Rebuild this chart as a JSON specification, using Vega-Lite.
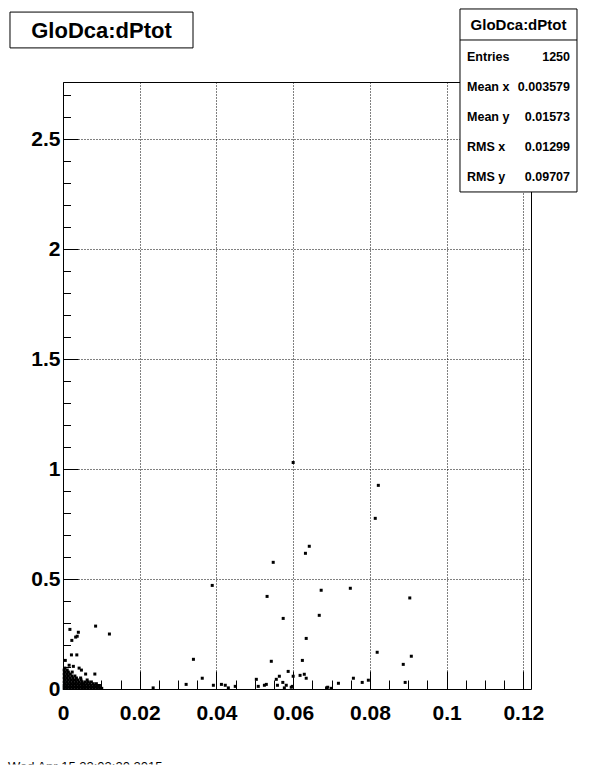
{
  "$schema": "https://vega.github.io/schema/vega-lite/v6.json",
  "width": 468,
  "height": 607,
  "autosize": {"type": "none"},
  "padding": {"left": 63, "top": 82, "right": 65, "bottom": 85},
  "background": "white",
  "config": {"view": {"stroke": "black", "strokeWidth": 1}, "font": "Liberation Sans"},
  "layer": [
    {
      "data": {"values": [
        {"x": 0.0600, "y": 1.030}, {"x": 0.0822, "y": 0.926}, {"x": 0.0814, "y": 0.776}, {"x": 0.0642, "y": 0.649},
        {"x": 0.0632, "y": 0.617}, {"x": 0.0548, "y": 0.576}, {"x": 0.0389, "y": 0.471}, {"x": 0.0673, "y": 0.449},
        {"x": 0.0749, "y": 0.458}, {"x": 0.0904, "y": 0.414}, {"x": 0.0532, "y": 0.421}, {"x": 0.0574, "y": 0.321},
        {"x": 0.0668, "y": 0.335}, {"x": 0.0634, "y": 0.230}, {"x": 0.0340, "y": 0.135}, {"x": 0.0543, "y": 0.126},
        {"x": 0.0624, "y": 0.130}, {"x": 0.0819, "y": 0.167}, {"x": 0.0887, "y": 0.112}, {"x": 0.0908, "y": 0.149},
        {"x": 0.0363, "y": 0.049}, {"x": 0.0321, "y": 0.021}, {"x": 0.0392, "y": 0.017}, {"x": 0.0413, "y": 0.021},
        {"x": 0.0423, "y": 0.017}, {"x": 0.0431, "y": 0.005}, {"x": 0.0449, "y": 0.012}, {"x": 0.0504, "y": 0.044},
        {"x": 0.0509, "y": 0.012}, {"x": 0.0525, "y": 0.017}, {"x": 0.0530, "y": 0.021}, {"x": 0.0556, "y": 0.044},
        {"x": 0.0564, "y": 0.058}, {"x": 0.0559, "y": 0.017}, {"x": 0.0573, "y": 0.030}, {"x": 0.0577, "y": 0.005},
        {"x": 0.0582, "y": 0.017}, {"x": 0.0587, "y": 0.080}, {"x": 0.0595, "y": 0.008}, {"x": 0.0598, "y": 0.012},
        {"x": 0.0600, "y": 0.058}, {"x": 0.0618, "y": 0.062}, {"x": 0.0629, "y": 0.067}, {"x": 0.0634, "y": 0.049},
        {"x": 0.0687, "y": 0.005}, {"x": 0.0690, "y": 0.008}, {"x": 0.0699, "y": 0.003}, {"x": 0.0718, "y": 0.026},
        {"x": 0.0757, "y": 0.049}, {"x": 0.0780, "y": 0.030}, {"x": 0.0796, "y": 0.040}, {"x": 0.0892, "y": 0.030},
        {"x": 0.0235, "y": 0.005},
        {"x": 0.0016, "y": 0.108}, {"x": 0.0027, "y": 0.103}, {"x": 0.0006, "y": 0.130}, {"x": 0.0022, "y": 0.155},
        {"x": 0.0036, "y": 0.155}, {"x": 0.0023, "y": 0.221}, {"x": 0.0033, "y": 0.236}, {"x": 0.0037, "y": 0.240},
        {"x": 0.0040, "y": 0.258}, {"x": 0.0018, "y": 0.271}, {"x": 0.0085, "y": 0.286}, {"x": 0.0121, "y": 0.250},
        {"x": 0.0003, "y": 0.003}, {"x": 0.0010, "y": 0.003}, {"x": 0.0018, "y": 0.003}, {"x": 0.0026, "y": 0.003},
        {"x": 0.0034, "y": 0.003}, {"x": 0.0042, "y": 0.003}, {"x": 0.0050, "y": 0.003}, {"x": 0.0057, "y": 0.003},
        {"x": 0.0065, "y": 0.003}, {"x": 0.0073, "y": 0.003}, {"x": 0.0081, "y": 0.003}, {"x": 0.0089, "y": 0.003},
        {"x": 0.0096, "y": 0.003}, {"x": 0.0101, "y": 0.003},
        {"x": 0.0006, "y": 0.009}, {"x": 0.0014, "y": 0.009}, {"x": 0.0022, "y": 0.009}, {"x": 0.0030, "y": 0.009},
        {"x": 0.0038, "y": 0.009}, {"x": 0.0046, "y": 0.009}, {"x": 0.0054, "y": 0.009}, {"x": 0.0062, "y": 0.009},
        {"x": 0.0070, "y": 0.009}, {"x": 0.0078, "y": 0.009}, {"x": 0.0086, "y": 0.009}, {"x": 0.0093, "y": 0.009},
        {"x": 0.0003, "y": 0.016}, {"x": 0.0010, "y": 0.016}, {"x": 0.0018, "y": 0.016}, {"x": 0.0026, "y": 0.016},
        {"x": 0.0034, "y": 0.016}, {"x": 0.0042, "y": 0.016}, {"x": 0.0050, "y": 0.016}, {"x": 0.0057, "y": 0.016},
        {"x": 0.0065, "y": 0.016}, {"x": 0.0073, "y": 0.016}, {"x": 0.0081, "y": 0.016}, {"x": 0.0088, "y": 0.016},
        {"x": 0.0095, "y": 0.016},
        {"x": 0.0006, "y": 0.024}, {"x": 0.0014, "y": 0.024}, {"x": 0.0022, "y": 0.024}, {"x": 0.0030, "y": 0.024},
        {"x": 0.0038, "y": 0.024}, {"x": 0.0046, "y": 0.024}, {"x": 0.0054, "y": 0.024}, {"x": 0.0062, "y": 0.024},
        {"x": 0.0070, "y": 0.024}, {"x": 0.0079, "y": 0.024}, {"x": 0.0087, "y": 0.024},
        {"x": 0.0003, "y": 0.032}, {"x": 0.0010, "y": 0.032}, {"x": 0.0018, "y": 0.032}, {"x": 0.0026, "y": 0.032},
        {"x": 0.0034, "y": 0.032}, {"x": 0.0042, "y": 0.032}, {"x": 0.0050, "y": 0.032}, {"x": 0.0058, "y": 0.032},
        {"x": 0.0066, "y": 0.032}, {"x": 0.0074, "y": 0.032},
        {"x": 0.0006, "y": 0.041}, {"x": 0.0014, "y": 0.041}, {"x": 0.0022, "y": 0.041}, {"x": 0.0030, "y": 0.041},
        {"x": 0.0038, "y": 0.041}, {"x": 0.0047, "y": 0.041}, {"x": 0.0063, "y": 0.041},
        {"x": 0.0003, "y": 0.050}, {"x": 0.0010, "y": 0.050}, {"x": 0.0018, "y": 0.050}, {"x": 0.0026, "y": 0.050},
        {"x": 0.0035, "y": 0.050}, {"x": 0.0046, "y": 0.050},
        {"x": 0.0006, "y": 0.059}, {"x": 0.0014, "y": 0.059}, {"x": 0.0023, "y": 0.059}, {"x": 0.0031, "y": 0.059},
        {"x": 0.0003, "y": 0.068}, {"x": 0.0011, "y": 0.068}, {"x": 0.0019, "y": 0.068}, {"x": 0.0059, "y": 0.068},
        {"x": 0.0083, "y": 0.068},
        {"x": 0.0006, "y": 0.077}, {"x": 0.0014, "y": 0.077}, {"x": 0.0024, "y": 0.077},
        {"x": 0.0003, "y": 0.086}, {"x": 0.0011, "y": 0.086}, {"x": 0.0048, "y": 0.086},
        {"x": 0.0005, "y": 0.095}, {"x": 0.0042, "y": 0.095}
      ]},
      "mark": {"type": "square", "filled": true, "color": "black", "size": 9, "opacity": 1},
      "encoding": {
        "x": {
          "field": "x", "type": "quantitative",
          "scale": {"domain": [0, 0.122], "nice": false, "zero": false},
          "axis": {
            "title": null,
            "tickCount": 200,
            "values": [0, 0.005, 0.01, 0.015, 0.02, 0.025, 0.03, 0.035, 0.04, 0.045, 0.05, 0.055, 0.06, 0.065, 0.07, 0.075, 0.08, 0.085, 0.09, 0.095, 0.1, 0.105, 0.11, 0.115, 0.12],
            "domain": false,
            "grid": true,
            "gridColor": "black",
            "gridDash": [1, 2],
            "gridWidth": 1,
            "gridOpacity": {"condition": {"test": "abs(datum.value*50 - round(datum.value*50)) < 0.001", "value": 1}, "value": 0},
            "ticks": true,
            "tickColor": "black",
            "tickWidth": 1,
            "tickSize": {"condition": {"test": "abs(datum.value*50 - round(datum.value*50)) < 0.001", "value": -18}, "value": -9},
            "labelExpr": "abs(datum.value*50 - round(datum.value*50)) < 0.001 ? '' + round(datum.value*100)/100 : ''",
            "labelFont": "Liberation Sans",
            "labelFontWeight": "bold",
            "labelFontSize": 21,
            "labelColor": "black",
            "labelPadding": 31,
            "labelFlush": false,
            "labelOverlap": false,
            "labelBound": false
          }
        },
        "y": {
          "field": "y", "type": "quantitative",
          "scale": {"domain": [0, 2.76], "nice": false, "zero": false},
          "axis": {
            "title": null,
            "tickCount": 200,
            "values": [0, 0.1, 0.2, 0.3, 0.4, 0.5, 0.6, 0.7, 0.8, 0.9, 1, 1.1, 1.2, 1.3, 1.4, 1.5, 1.6, 1.7, 1.8, 1.9, 2, 2.1, 2.2, 2.3, 2.4, 2.5, 2.6, 2.7],
            "domain": false,
            "grid": true,
            "gridColor": "black",
            "gridDash": [1, 2],
            "gridWidth": 1,
            "gridOpacity": {"condition": {"test": "abs(datum.value*2 - round(datum.value*2)) < 0.001", "value": 1}, "value": 0},
            "ticks": true,
            "tickColor": "black",
            "tickWidth": 1,
            "tickSize": {"condition": {"test": "abs(datum.value*2 - round(datum.value*2)) < 0.001", "value": -15}, "value": -7.5},
            "labelExpr": "abs(datum.value*2 - round(datum.value*2)) < 0.001 ? '' + datum.value : ''",
            "labelFont": "Liberation Sans",
            "labelFontWeight": "bold",
            "labelFontSize": 21,
            "labelColor": "black",
            "labelPadding": 18,
            "labelFlush": false,
            "labelOverlap": false,
            "labelBound": false
          }
        }
      }
    },
    {
      "data": {"values": [{"title": "GloDca:dPtot"}]},
      "layer": [
        {
          "mark": {"type": "rect", "fill": "white", "stroke": "black", "strokeWidth": 1},
          "encoding": {"x": {"datum": -0.01382}, "x2": {"datum": 0.03389}, "y": {"datum": 3.078}, "y2": {"datum": 2.915}}
        },
        {
          "mark": {"type": "text", "font": "Liberation Sans", "fontWeight": "bold", "fontSize": 22, "align": "center", "baseline": "middle", "color": "black"},
          "encoding": {"x": {"datum": 0.01004}, "y": {"datum": 2.992}, "text": {"field": "title"}}
        }
      ]
    },
    {
      "data": {"values": [{"title": "GloDca:dPtot"}]},
      "layer": [
        {
          "mark": {"type": "rect", "fill": "white", "stroke": "black", "strokeWidth": 1},
          "encoding": {"x": {"datum": 0.10349}, "x2": {"datum": 0.13399}, "y": {"datum": 3.092}, "y2": {"datum": 2.260}}
        },
        {
          "mark": {"type": "rule", "color": "black", "strokeWidth": 1},
          "encoding": {"x": {"datum": 0.10349}, "x2": {"datum": 0.13399}, "y": {"datum": 2.951}}
        },
        {
          "mark": {"type": "text", "font": "Liberation Sans", "fontWeight": "bold", "fontSize": 15, "align": "center", "baseline": "middle", "color": "black"},
          "encoding": {"x": {"datum": 0.11875}, "y": {"datum": 3.021}, "text": {"field": "title"}}
        }
      ]
    },
    {
      "data": {"values": [{"name": "Entries", "value": "1250"}]},
      "encoding": {"y": {"datum": 2.874}},
      "layer": [
        {"mark": {"type": "text", "font": "Liberation Sans", "fontWeight": "bold", "fontSize": 12.5, "align": "left", "baseline": "middle", "color": "black"},
         "encoding": {"x": {"datum": 0.10532}, "text": {"field": "name"}}},
        {"mark": {"type": "text", "font": "Liberation Sans", "fontWeight": "bold", "fontSize": 12.5, "align": "right", "baseline": "middle", "color": "black"},
         "encoding": {"x": {"datum": 0.13217}, "text": {"field": "value"}}}
      ]
    },
    {
      "data": {"values": [{"name": "Mean x", "value": "0.003579"}]},
      "encoding": {"y": {"datum": 2.737}},
      "layer": [
        {"mark": {"type": "text", "font": "Liberation Sans", "fontWeight": "bold", "fontSize": 12.5, "align": "left", "baseline": "middle", "color": "black"},
         "encoding": {"x": {"datum": 0.10532}, "text": {"field": "name"}}},
        {"mark": {"type": "text", "font": "Liberation Sans", "fontWeight": "bold", "fontSize": 12.5, "align": "right", "baseline": "middle", "color": "black"},
         "encoding": {"x": {"datum": 0.13217}, "text": {"field": "value"}}}
      ]
    },
    {
      "data": {"values": [{"name": "Mean y", "value": "0.01573"}]},
      "encoding": {"y": {"datum": 2.601}},
      "layer": [
        {"mark": {"type": "text", "font": "Liberation Sans", "fontWeight": "bold", "fontSize": 12.5, "align": "left", "baseline": "middle", "color": "black"},
         "encoding": {"x": {"datum": 0.10532}, "text": {"field": "name"}}},
        {"mark": {"type": "text", "font": "Liberation Sans", "fontWeight": "bold", "fontSize": 12.5, "align": "right", "baseline": "middle", "color": "black"},
         "encoding": {"x": {"datum": 0.13217}, "text": {"field": "value"}}}
      ]
    },
    {
      "data": {"values": [{"name": "RMS x", "value": "0.01299"}]},
      "encoding": {"y": {"datum": 2.464}},
      "layer": [
        {"mark": {"type": "text", "font": "Liberation Sans", "fontWeight": "bold", "fontSize": 12.5, "align": "left", "baseline": "middle", "color": "black"},
         "encoding": {"x": {"datum": 0.10532}, "text": {"field": "name"}}},
        {"mark": {"type": "text", "font": "Liberation Sans", "fontWeight": "bold", "fontSize": 12.5, "align": "right", "baseline": "middle", "color": "black"},
         "encoding": {"x": {"datum": 0.13217}, "text": {"field": "value"}}}
      ]
    },
    {
      "data": {"values": [{"name": "RMS y", "value": "0.09707"}]},
      "encoding": {"y": {"datum": 2.328}},
      "layer": [
        {"mark": {"type": "text", "font": "Liberation Sans", "fontWeight": "bold", "fontSize": 12.5, "align": "left", "baseline": "middle", "color": "black"},
         "encoding": {"x": {"datum": 0.10532}, "text": {"field": "name"}}},
        {"mark": {"type": "text", "font": "Liberation Sans", "fontWeight": "bold", "fontSize": 12.5, "align": "right", "baseline": "middle", "color": "black"},
         "encoding": {"x": {"datum": 0.13217}, "text": {"field": "value"}}}
      ]
    },
    {
      "data": {"values": [{"stamp": "Wed Apr 15 22:03:20 2015"}]},
      "layer": [
        {
          "mark": {"type": "text", "font": "Liberation Sans", "fontSize": 13, "align": "left", "baseline": "top", "color": "black"},
          "encoding": {"x": {"datum": -0.01434}, "y": {"datum": -0.3274}, "text": {"field": "stamp"}}
        },
        {
          "mark": {"type": "rect", "fill": "white", "stroke": null},
          "encoding": {"x": {"datum": -0.02}, "x2": {"datum": 0.06}, "y": {"datum": -0.3433}, "y2": {"datum": -0.46}}
        }
      ]
    }
  ]
}
